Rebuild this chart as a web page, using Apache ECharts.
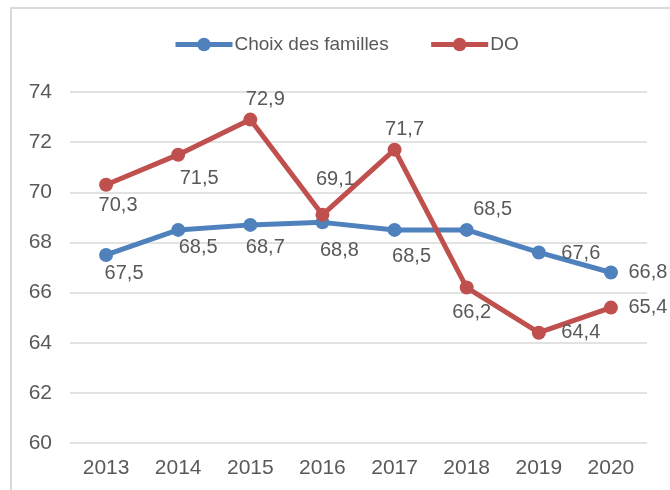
<!DOCTYPE html>
<html>
<head>
<meta charset="utf-8">
<script src="https://cdn.jsdelivr.net/npm/echarts@6/dist/echarts.min.js"></script>
<style>
  html, body { margin: 0; padding: 0; background: #fff; }
  #chart { width: 670px; height: 490px; }
</style>
</head>
<body>
<div id="chart"></div>
<script>
const years = ["2013", "2014", "2015", "2016", "2017", "2018", "2019", "2020"];
const choixFamilles = [67.5, 68.5, 68.7, 68.8, 68.5, 68.5, 67.6, 66.8];
const doValues = [70.3, 71.5, 72.9, 69.1, 71.7, 66.2, 64.4, 65.4];

// where each value label sits relative to its point
const choixLabelOffsets = [[18, 19], [20, 18], [15, 23], [17, 28], [17, 27], [26, -20], [42, 1], [37, 0]];
const doLabelOffsets = [[12, 21], [21, 24], [15, -20], [13, -35], [10, -20], [5, 25], [42, 0], [37, 0]];

const textColor = "#595959";
const fontFamily = "'Liberation Sans', Arial, sans-serif";

function withLabels(values, offsets) {
    return values.map((v, i) => ({
        value: v,
        label: { offset: offsets[i] }
    }));
}

function lineSeries(name, values, offsets, color) {
    return {
        name: name,
        type: "line",
        data: withLabels(values, offsets),
        symbol: "circle",
        symbolSize: 14,
        lineStyle: { width: 5, color: color },
        itemStyle: { color: color },
        label: {
            show: true,
            position: "inside",
            color: textColor,
            fontSize: 20,
            fontFamily: fontFamily,
            formatter: p => String(p.value).replace(".", ",")
        },
        emphasis: { disabled: true }
    };
}

const chart = echarts.init(document.getElementById("chart"));
chart.setOption({
    animation: false,
    graphic: [{
        type: "rect",
        shape: { x: 11, y: 8, width: 700, height: 520 },
        style: { fill: "none", stroke: "#d9d9d9", lineWidth: 2 },
        silent: true
    }],
    legend: {
        top: 30,
        left: 168,
        itemWidth: 57,
        itemHeight: 17,
        itemGap: 40,
        lineStyle: { width: 5 },
        textStyle: { color: textColor, fontSize: 19, fontFamily: fontFamily, padding: [0, 0, 0, -3] }
    },
    grid: { left: 70, right: 23, top: 92, bottom: 47 },
    xAxis: {
        type: "category",
        data: years,
        axisLine: { show: false },
        axisTick: { show: false },
        axisLabel: { color: textColor, fontSize: 21, fontFamily: fontFamily, margin: 15 }
    },
    yAxis: {
        type: "value",
        min: 60,
        max: 74,
        interval: 2,
        axisLine: { show: false },
        axisTick: { show: false },
        axisLabel: { color: textColor, fontSize: 21, fontFamily: fontFamily, margin: 18 },
        splitLine: { lineStyle: { color: "#d9d9d9", width: 1.5 } }
    },
    series: [
        lineSeries("Choix des familles", choixFamilles, choixLabelOffsets, "#4f81bd"),
        lineSeries("DO", doValues, doLabelOffsets, "#c0504d")
    ]
});
</script>
</body>
</html>
